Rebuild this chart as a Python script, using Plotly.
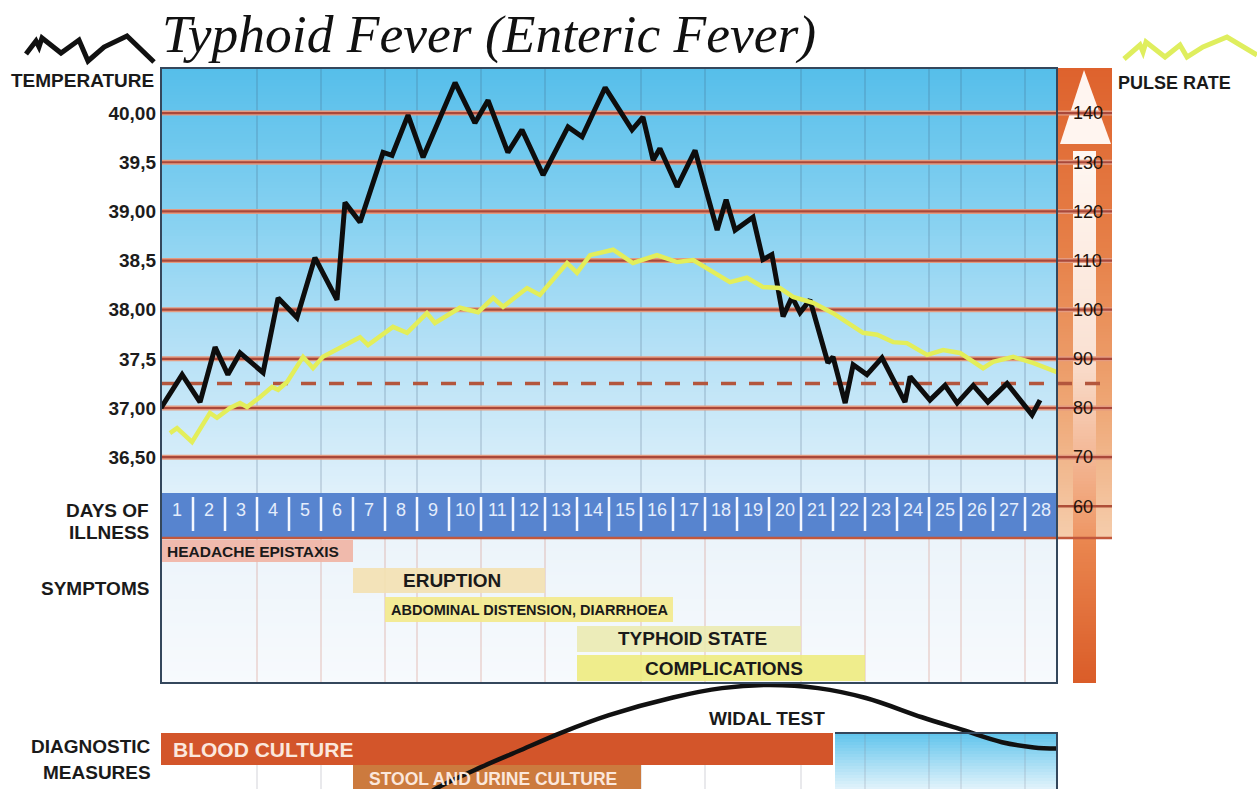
import plotly.graph_objects as go

# ---------------- DATA ----------------
temp_day = [0.5, 1.16, 1.72, 2.19, 2.59, 2.97, 3.69, 4.16, 4.75, 5.31, 6.0, 6.25, 6.72, 7.44, 7.72,
            8.22, 8.69, 9.69, 10.31, 10.72, 11.34, 11.78, 12.44, 13.22, 13.66, 14.38, 15.22, 15.56,
            15.88, 16.09, 16.63, 17.19, 17.88, 18.16, 18.44, 19.0, 19.31, 19.59, 19.94, 20.22, 20.47,
            20.78, 21.34, 21.5, 21.88, 22.13, 22.56, 23.03, 23.75, 23.91, 24.53, 25.0, 25.38, 25.88,
            26.34, 26.94, 27.72, 27.97]
temp_val = [37.00, 37.34, 37.06, 37.62, 37.34, 37.56, 37.36, 38.12, 37.92, 38.53, 38.10, 39.09, 38.89,
            39.60, 39.57, 39.98, 39.55, 40.31, 39.90, 40.13, 39.60, 39.83, 39.37, 39.86, 39.76, 40.26,
            39.83, 39.96, 39.52, 39.64, 39.25, 39.62, 38.81, 39.12, 38.81, 38.94, 38.51, 38.56, 37.93,
            38.13, 37.97, 38.10, 37.46, 37.52, 37.05, 37.44, 37.34, 37.51, 37.06, 37.32, 37.08, 37.23,
            37.05, 37.23, 37.06, 37.25, 36.93, 37.08]

pulse_day = [0.78, 1.0, 1.47, 2.03, 2.25, 2.66, 2.97, 3.19, 3.59, 3.97, 4.16, 4.44, 4.94, 5.25, 5.56,
             6.72, 6.97, 7.75, 8.19, 8.81, 9.06, 9.84, 10.41, 10.88, 11.19, 11.94, 12.34, 13.19, 13.5,
             13.91, 14.63, 15.25, 16.0, 16.63, 17.13, 17.66, 18.28, 18.81, 19.31, 19.84, 20.25, 20.88,
             21.5, 22.44, 22.88, 23.38, 23.81, 24.44, 24.94, 25.47, 26.19, 26.5, 27.13, 27.75, 28.5]
pulse_val = [74.9, 75.9, 73.1, 79.0, 78.0, 80.0, 81.0, 80.2, 82.2, 84.3, 83.7, 85.3, 90.4, 88.1, 90.4,
             94.4, 92.8, 96.5, 95.3, 99.3, 97.3, 100.4, 99.5, 102.4, 100.6, 104.4, 103.0, 109.5, 107.5,
             111.1, 112.2, 109.5, 111.1, 109.7, 110.1, 108.1, 105.6, 106.5, 104.6, 104.4, 102.6, 101.4,
             99.3, 95.3, 94.9, 93.4, 93.2, 90.8, 91.8, 91.2, 88.1, 89.4, 90.4, 89.2, 87.3]

temp_ticks = [36.5, 37.0, 37.5, 38.0, 38.5, 39.0, 39.5, 40.0]
temp_tick_text = ["36,50", "37,00", "37,5", "38,00", "38,5", "39,00", "39,5", "40,00"]
temp_dashed = 37.25
pulse_ticks = [60, 70, 80, 90, 100, 110, 120, 130, 140]

days = list(range(1, 29))
grid_days = [3.5, 5.5, 7.5, 8.5, 10.5, 12.5, 15.5, 17.5, 20.5, 22.5, 24.5, 25.5, 27.5]

symptoms = ["HEADACHE EPISTAXIS", "ERUPTION", "ABDOMINAL DISTENSION, DIARRHOEA",
            "TYPHOID STATE", "COMPLICATIONS"]
symptom_start = [0.5, 6.5, 7.5, 13.5, 13.5]
symptom_end = [6.5, 12.5, 16.5, 20.5, 22.5]

diag_names = ["BLOOD CULTURE", "STOOL AND URINE CULTURE"]
diag_start = [0.5, 6.5]
diag_end = [21.5, 15.5]

widal_day = [8.6, 9.13, 10.5, 11.75, 13.0, 14.5, 16.5, 18.03, 19.53, 21.03, 22.53, 24.28, 25.53,
             26.78, 27.78, 28.5]
widal_level = [-0.1, 0.01, 0.21, 0.375, 0.54, 0.71, 0.88, 0.97, 1.0, 0.97, 0.875, 0.69, 0.57,
               0.45, 0.40, 0.39]

# ---------------- LAYOUT HELPERS ----------------
W, H = 1257, 789
def X(px): return px / W
def Y(py): return 1 - py / H

PX_PER_DAY = 32.0
LEFT, RIGHT_BOX, RIGHT_BAR = 161, 1057, 1112
TOP, BOTTOM = 68, 683
def T_at(py): return 37 + (408 - py) / 98.3
def P_of_T(t): return 80 + (t - 37) * 20

FONT = "Liberation Sans, Arial, sans-serif"

def hexc(c): return "#%02x%02x%02x" % tuple(int(round(v)) for v in c)

def col_at(stops, py):
    if py <= stops[0][0]:
        return hexc(stops[0][1])
    for (a, ca), (b, cb) in zip(stops[:-1], stops[1:]):
        if a <= py <= b:
            f = (py - a) / (b - a)
            return hexc([ca[i] + (cb[i] - ca[i]) * f for i in range(3)])
    return hexc(stops[-1][1])

def strips(x0, x1, y0, y1, stops, step=3):
    out = []
    py = y0
    while py < y1:
        pe = min(py + step, y1)
        out.append(dict(type="rect", xref="paper", yref="paper", x0=X(x0), x1=X(x1),
                        y0=Y(min(pe + 0.8, y1)), y1=Y(py), fillcolor=col_at(stops, (py + pe) / 2),
                        line=dict(width=0), layer="below"))
        py = pe
    return out

def ppath(pts):
    return "M " + " L ".join("%.5f,%.5f" % (X(a), Y(b)) for a, b in pts)

shapes = []
# main background gradient
shapes += strips(LEFT, RIGHT_BOX, TOP, BOTTOM,
                 [(68, (86, 190, 234)), (200, (128, 207, 240)), (350, (182, 225, 246)),
                  (480, (220, 239, 250)), (540, (236, 244, 250)), (683, (247, 250, 253))])
# pulse bar outer
shapes += strips(RIGHT_BOX, RIGHT_BAR, TOP, 538,
                 [(68, (222, 98, 45)), (250, (230, 128, 72)), (400, (238, 165, 115)),
                  (538, (245, 205, 172))])
# arrow head
shapes.append(dict(type="path", xref="paper", yref="paper",
                   path=ppath([(1084, 70), (1111, 144), (1060, 144)]) + " Z",
                   fillcolor="#fff5f0", line=dict(width=0), layer="below"))
# shaft
shapes += strips(1073, 1096, 151, 538,
                 [(151, (255, 247, 242)), (350, (250, 226, 212)), (538, (238, 150, 100))])
shapes += strips(1073, 1096, 538, BOTTOM,
                 [(538, (234, 135, 80)), (683, (218, 92, 40))])
# days row
shapes.append(dict(type="rect", xref="paper", yref="paper", x0=X(LEFT), x1=X(RIGHT_BOX),
                   y0=Y(538), y1=Y(493), fillcolor="#5784cf", line=dict(width=0), layer="below"))
# lower right blue box
shapes += strips(835, RIGHT_BOX, 733, 789,
                 [(733, (96, 196, 236)), (789, (226, 243, 251))])

# vertical grid lines
for d in grid_days:
    for (a, b, c) in [(TOP, 493, "rgba(60,80,110,0.35)"), (538, BOTTOM, "rgba(205,120,105,0.45)"),
                      (733, 789, "rgba(130,130,145,0.35)")]:
        shapes.append(dict(type="line", xref="x", yref="paper", x0=d, x1=d, y0=Y(b), y1=Y(a),
                           line=dict(color=c, width=1), layer="below"))
# day separators
for d in days[:-1]:
    shapes.append(dict(type="line", xref="x", yref="paper", x0=d + 0.5, x1=d + 0.5,
                       y0=Y(531), y1=Y(497), line=dict(color="#f4f8ff", width=2.5), layer="below"))
# horizontal temperature lines
for t in temp_ticks:
    shapes.append(dict(type="line", xref="paper", yref="y", x0=X(LEFT), x1=X(RIGHT_BAR), y0=t, y1=t,
                       line=dict(color="#e49a80", width=5), layer="below"))
    shapes.append(dict(type="line", xref="paper", yref="y", x0=X(LEFT), x1=X(RIGHT_BAR), y0=t, y1=t,
                       line=dict(color="#a9483a", width=2.2), layer="below"))
shapes.append(dict(type="line", xref="paper", yref="y", x0=X(LEFT), x1=X(RIGHT_BAR),
                   y0=temp_dashed, y1=temp_dashed,
                   line=dict(color="#b3563d", width=3.5, dash="15px,13px"), layer="below"))
shapes.append(dict(type="line", xref="paper", yref="y2", x0=X(RIGHT_BOX), x1=X(RIGHT_BAR),
                   y0=60, y1=60, line=dict(color="#ae4e38", width=2.5), layer="below"))
shapes.append(dict(type="line", xref="paper", yref="paper", x0=X(LEFT), x1=X(RIGHT_BAR),
                   y0=Y(538), y1=Y(538), line=dict(color="#c2583c", width=2.5), layer="below"))

# borders
shapes.append(dict(type="rect", xref="paper", yref="paper", x0=X(LEFT), x1=X(RIGHT_BOX),
                   y0=Y(BOTTOM), y1=Y(TOP), line=dict(color="#34475c", width=2), layer="above"))
shapes.append(dict(type="path", xref="paper", yref="paper",
                   path=ppath([(835, 733), (RIGHT_BOX, 733), (RIGHT_BOX, 789)]),
                   line=dict(color="#34475c", width=2), layer="above"))

# logos
shapes.append(dict(type="path", xref="paper", yref="paper",
                   path=ppath([(26, 54), (36, 41), (39, 47), (42, 38), (61, 53), (79, 40), (88, 61),
                               (104, 47), (127, 36), (154, 62)]),
                   line=dict(color="#111111", width=5), layer="above"))
shapes.append(dict(type="path", xref="paper", yref="paper",
                   path=ppath([(1124, 59), (1140, 45), (1143, 52), (1146, 42), (1165, 57), (1180, 45),
                               (1187, 57), (1203, 47), (1227, 37), (1257, 55)]),
                   line=dict(color="#dfee5e", width=5), layer="above"))

fig = go.Figure()

# symptom bars
fig.add_trace(go.Bar(orientation="h", y=list(range(len(symptoms))),
                     x=[e - s for s, e in zip(symptom_start, symptom_end)], base=symptom_start,
                     width=[0.76, 0.86, 0.86, 0.86, 0.88],
                     marker=dict(color=["#f1b4a4", "#f4e2b2", "#f4ea8c", "#ecebb2", "#efec80"],
                                 line=dict(width=0)),
                     opacity=0.9, xaxis="x", yaxis="y3", hoverinfo="skip"))
# diagnostic bars
fig.add_trace(go.Bar(orientation="h", y=[0, 1],
                     x=[e - s for s, e in zip(diag_start, diag_end)], base=diag_start,
                     width=[1.07, 0.92],
                     marker=dict(color=["#d3552a", "#cc7a3e"], line=dict(width=0)),
                     xaxis="x", yaxis="y4", hoverinfo="skip"))
# widal
fig.add_trace(go.Scatter(x=widal_day, y=widal_level, mode="lines",
                         line=dict(color="#111111", width=4.5, shape="spline", smoothing=1.0),
                         xaxis="x", yaxis="y5", hoverinfo="skip"))
# temperature
fig.add_trace(go.Scatter(x=temp_day, y=temp_val, mode="lines",
                         line=dict(color="#0d0d0d", width=5),
                         xaxis="x", yaxis="y", hoverinfo="skip"))
# pulse
fig.add_trace(go.Scatter(x=pulse_day, y=pulse_val, mode="lines",
                         line=dict(color="#e3ee5a", width=4.5),
                         xaxis="x", yaxis="y2", hoverinfo="skip"))

annotations = []
def ann(text, x, y, size, xanchor="center", color="#1a1a1a", bold=True, xref="paper", yref="paper",
        xshift=0, family=FONT, style="normal"):
    annotations.append(dict(text=text, x=x, y=y, xref=xref, yref=yref, xanchor=xanchor,
                            yanchor="middle", showarrow=False, xshift=xshift,
                            font=dict(family=family, size=size, color=color,
                                      weight="bold" if bold else "normal", style=style)))

ann("Typhoid Fever (Enteric Fever)", X(160), Y(34), 53.5, "left", "#111111", False,
    family="Liberation Serif, Times New Roman, serif", style="italic")
ann("TEMPERATURE", X(156), Y(81), 19, "right")
ann("PULSE RATE", X(1116), Y(83), 18, "left")
ann("DAYS OF", X(151), Y(510), 19, "right")
ann("ILLNESS", X(151), Y(532), 19, "right")
ann("SYMPTOMS", X(151), Y(588), 19, "right")
ann("DIAGNOSTIC", X(153), Y(746), 19, "right")
ann("MEASURES", X(153), Y(772), 19, "right")
ann("WIDAL TEST", X(767), Y(718), 19, "center")

for d in days:
    ann(str(d), d, Y(510), 18, "center", "#e4edfc", False, xref="x")

sym_size = [15.5, 19, 14.5, 19, 19]
sym_anchor = ["left", "center", "left", "center", "center"]
for i, name in enumerate(symptoms):
    if sym_anchor[i] == "left":
        ann(name, symptom_start[i], i, sym_size[i], "left", xref="x", yref="y3", xshift=4)
    else:
        ann(name, (symptom_start[i] + symptom_end[i]) / 2, i, sym_size[i], "center",
            xref="x", yref="y3", xshift=3)

ann(diag_names[0], diag_start[0], 0, 21, "left", "#fbe7dc", xref="x", yref="y4", xshift=10)
ann(diag_names[1], diag_start[1], 1, 17.5, "left", "#fbe7dc", xref="x", yref="y4", xshift=14)

t_lo, t_hi = T_at(BOTTOM), T_at(TOP)
x_hi = 0.5 + (RIGHT_BAR - LEFT) / PX_PER_DAY

fig.update_layout(
    width=W, height=H, margin=dict(l=0, r=0, t=0, b=0),
    paper_bgcolor="white", plot_bgcolor="rgba(0,0,0,0)", showlegend=False,
    bargap=0,
    xaxis=dict(domain=[X(LEFT), X(RIGHT_BAR)], range=[0.5, x_hi], visible=False, fixedrange=True),
    yaxis=dict(domain=[Y(BOTTOM), Y(TOP)], range=[t_lo, t_hi], anchor="x",
               tickvals=temp_ticks, ticktext=temp_tick_text, showgrid=False, zeroline=False,
               showline=False, ticks="", ticklabelstandoff=4,
               tickfont=dict(family=FONT, size=19, color="#1c1c1c", weight="bold")),
    yaxis2=dict(overlaying="y", range=[P_of_T(t_lo), P_of_T(t_hi)], anchor="free",
                position=X(1071), side="right", tickvals=pulse_ticks, showgrid=False,
                zeroline=False, showline=False, ticks="", ticklabelstandoff=1,
                tickfont=dict(family=FONT, size=18, color="#22120a")),
    yaxis3=dict(domain=[Y(BOTTOM), Y(538)], range=[4.505, -0.444], anchor="x", visible=False),
    yaxis4=dict(domain=[0, Y(680)], range=[1.333, -2.3], anchor="x", visible=False),
    yaxis5=dict(overlaying="y4", range=[0, 109 / 104], anchor="x", visible=False),
    shapes=shapes, annotations=annotations,
)

fig.write_html("out.html", config={"displayModeBar": False},
               post_script="document.body.style.margin='0';document.body.style.overflow='hidden';")
